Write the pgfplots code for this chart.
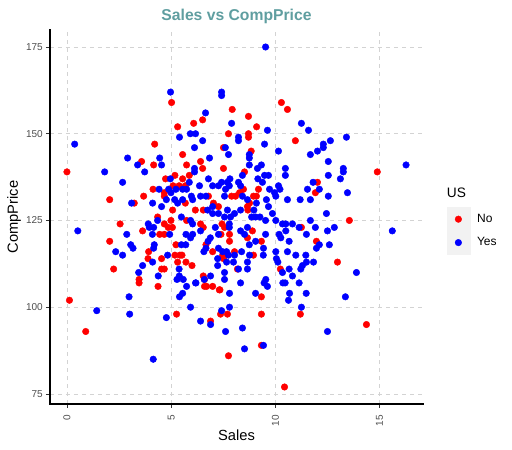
\documentclass[border=0pt]{standalone}
\usepackage{pgfplots}
\pgfplotsset{compat=1.18}
\usepackage{fontspec}
\setmainfont{Liberation Sans}
\definecolor{titlecol}{RGB}{95,158,160}
\definecolor{tickcol}{RGB}{77,77,77}
\definecolor{gridcol}{RGB}{211,211,211}
\definecolor{keybg}{RGB}{242,242,242}
\begin{document}
\begin{tikzpicture}[x=1pt,y=1pt]
\begin{axis}[
  at={(0,0)}, anchor=south west,
  scale only axis, width=373pt, height=374pt,
  xmin=-0.8135, xmax=17.0835, ymin=72.1, ymax=179.9,
  clip=false,
  axis x line*=bottom, axis y line*=left,
  x axis line style={-, line width=1.7pt, black, line cap=rect},
  y axis line style={-, line width=1.7pt, black, line cap=rect},
  xtick={0,5,10,15}, ytick={75,100,125,150,175},
  tick align=outside, major tick length=4pt,
  tick style={line width=0.8pt, color=black!80},
  grid=major, major grid style={gridcol, line width=0.8pt, dash pattern=on 4pt off 4pt},
  /pgf/number format/assume math mode=true,
  ticklabel style={font=\fontsize{10pt}{12pt}\selectfont, color=tickcol},
  xticklabel style={rotate=90, anchor=east, inner sep=0pt},
  yticklabel style={anchor=east, inner sep=0pt},
  xticklabel shift=7pt, yticklabel shift=3pt,
  xlabel={Sales}, ylabel={CompPrice},
  label style={font=\fontsize{14.7pt}{17pt}\selectfont},
  xlabel style={at={(axis description cs:0.5,-0.0963)}, anchor=base, inner sep=0pt},
  ylabel style={at={(axis description cs:-0.0858,0.5)}, anchor=base, rotate=0, inner sep=0pt},
  legend style={at={(axis description cs:1.0635,0.5254)}, anchor=north west, draw=none, fill=none, inner sep=0pt, outer sep=0pt, row sep=0pt, column sep=7pt, nodes={inner sep=0pt, anchor=west, font=\fontsize{12pt}{14pt}\selectfont}},
  legend cell align=left,
  legend image code/.code={\fill[keybg] (-11.5pt,-11.5pt) rectangle (11.5pt,11.5pt); \draw[#1] plot coordinates {(0pt,0pt)};},
]
\addplot[only marks, mark=*, mark size=3.3pt, color=red, fill=red, mark options={line width=0.4pt}] coordinates {
(5.02,159) (5.31,152) (4.21,147) (3.58,142) (4.16,141) (5.55,144) (10.29,159) (10.58,157) (7.93,157) (6.08,153)
(6.51,154) (8.71,155) (9.10,152) (7.75,150) (8.71,150) (8.71,149) (10.96,148) (7.51,146) (8.84,145) (6.41,142)
(5.74,141) (6.51,140) (7.51,140) (8.52,139) (14.89,139) (0.00,139) (5.18,138) (4.73,137) (5.55,137) (5.09,135)
(5.38,135) (4.13,134) (4.67,133) (4.67,132) (2.05,131) (3.68,132) (3.23,130) (5.07,128) (4.35,126) (2.55,124)
(4.67,124) (4.99,125) (3.63,122) (4.45,121) (4.67,121) (5.06,123) (4.86,123) (2.05,119) (5.23,118) (3.92,116)
(5.18,115) (5.42,115) (3.89,114) (4.54,114) (5.31,113) (2.24,111) (4.54,111) (4.67,111) (3.46,108) (3.46,107)
(4.37,106) (0.12,102) (0.90,93) (5.26,98) (6.70,106) (6.99,106) (7.34,105) (9.33,103) (11.20,98) (7.37,98)
(7.70,98) (6.89,96) (9.33,98) (9.33,89) (7.75,86) (10.44,77) (14.37,95) (12.02,136) (11.92,133) (13.55,125)
(11.25,123) (11.97,119) (12.98,113) (5.87,138) (9.19,134) (5.68,135) (5.68,130) (6.79,132) (7.03,130) (7.27,129)
(7.90,132) (8.09,132) (8.28,133) (8.47,134) (8.95,132) (9.09,132) (8.76,130) (8.66,129) (8.68,128) (6.16,128)
(6.54,128) (5.74,125) (6.41,124) (6.54,123) (7.44,124) (7.56,123) (7.39,121) (7.80,121) (7.80,119) (8.90,122)
(8.66,120) (9.33,119) (6.67,118) (5.52,115) (5.71,113) (6.00,112) (6.99,116) (7.47,115) (7.51,114) (8.04,116)
(8.95,115) (8.18,111) (6.54,109) (6.60,108) (6.60,106) (7.31,105) (10.24,111)
};
\addlegendentry{No}
\addplot[only marks, mark=*, mark size=3.3pt, color=blue, fill=blue, mark options={line width=0.4pt}] coordinates {
(4.97,162) (5.40,149) (0.37,147) (2.91,143) (4.45,143) (3.39,141) (4.54,141) (9.53,175) (7.42,162) (7.42,161)
(6.65,156) (7.90,153) (9.62,151) (11.25,153) (11.59,151) (5.92,150) (6.17,150) (8.23,149) (8.23,148) (6.51,148)
(9.48,147) (6.12,146) (7.60,146) (10.15,145) (7.75,144) (8.75,144) (8.75,143) (8.75,141) (6.84,143) (6.12,140)
(9.14,140) (9.33,141) (10.48,140) (13.41,149) (12.64,148) (12.30,147) (12.30,146) (12.02,145) (11.68,144) (12.54,142)
(16.27,141) (13.26,140) (1.81,139) (3.73,139) (2.67,136) (4.96,137) (4.42,134) (4.88,134) (4.99,133) (5.23,134)
(5.55,134) (4.77,131) (5.17,131) (3.10,130) (4.11,130) (4.54,129) (5.31,130) (0.52,122) (3.90,124) (3.95,123)
(4.16,123) (4.35,125) (4.10,121) (4.93,121) (2.87,121) (3.06,118) (3.17,117) (4.19,118) (4.16,117) (5.70,118)
(2.34,116) (2.67,115) (4.83,115) (4.11,113) (3.63,112) (5.38,111) (3.44,110) (4.38,109) (5.28,108) (1.43,99)
(2.98,103) (3.01,98) (4.14,85) (4.77,97) (5.40,103) (5.55,104) (5.74,106) (7.80,104) (6.17,107) (8.33,107)
(9.05,104) (9.46,107) (9.62,106) (10.36,107) (10.68,104) (10.63,102) (11.14,107) (11.48,104) (11.25,100) (5.93,100)
(7.42,99) (7.80,100) (6.41,96) (6.89,95) (7.61,93) (8.42,94) (8.52,88) (9.43,89) (13.36,103) (12.50,93)
(13.26,139) (13.12,137) (12.54,138) (11.81,136) (11.54,134) (12.11,134) (13.46,133) (11.19,131) (11.68,131) (12.54,132)
(12.45,127) (11.68,125) (11.92,123) (12.83,123) (12.50,122) (11.49,121) (15.61,122) (12.11,118) (11.97,117) (12.59,118)
(11.83,113) (13.89,110) (11.22,111) (6.12,139) (10.48,138) (9.48,138) (9.67,138) (5.87,136) (5.74,134) (6.79,137)
(6.36,135) (6.99,135) (7.27,135) (7.42,136) (7.82,137) (7.70,136) (8.23,136) (8.42,138) (8.33,135) (9.16,137)
(9.38,136) (9.72,134) (10.15,135) (10.22,134) (9.96,133) (10.02,132) (10.58,131) (5.97,132) (5.55,131) (6.03,131)
(6.41,132) (6.67,132) (6.99,129) (6.99,127) (7.61,134) (7.79,135) (7.56,132) (8.42,132) (8.66,131) (9.09,130)
(8.97,128) (9.67,129) (9.57,131) (9.26,126) (9.53,125) (9.05,126) (8.86,126) (8.33,128) (8.04,127) (7.70,128)
(7.27,127) (7.85,126) (7.56,126) (6.75,128) (5.49,126) (5.93,125) (6.03,124) (6.41,122) (5.71,121) (6.03,121)
(5.93,120) (7.79,124) (7.79,123) (7.12,123) (7.27,121) (8.66,123) (8.33,122) (8.52,121) (8.75,118) (9.05,119)
(9.53,121) (9.43,117) (6.88,120) (6.77,119) (6.67,117) (6.57,116) (5.49,118) (7.27,117) (7.47,116) (7.66,116)
(7.75,115) (8.04,115) (8.38,116) (8.76,115) (8.66,113) (9.42,115) (7.23,114) (7.23,112) (7.66,113) (7.99,113)
(8.66,111) (8.23,111) (7.56,110) (7.56,108) (6.89,109) (6.19,107) (6.59,108) (5.58,108) (5.39,109) (9.54,108)
(10.02,116) (10.05,114) (10.12,113) (10.58,116) (10.98,115) (10.34,110) (10.82,109) (10.66,111) (10.47,107) (11.49,113)
(11.46,115) (11.30,112) (10.18,121) (10.26,120) (10.50,122) (10.66,119) (10.50,124) (10.82,124) (11.14,123) (10.02,125)
(10.34,124) (9.86,127)
};
\addlegendentry{Yes}
\node[anchor=base west, inner sep=0pt, font=\fontsize{13.7pt}{16pt}\selectfont] at (axis description cs:1.0635,0.5516) {US};
\node[anchor=base, inner sep=0pt, font=\bfseries\fontsize{15.7pt}{18pt}\selectfont, color=titlecol] at (axis description cs:0.5,1.0254) {Sales vs CompPrice};
\end{axis}
\pgfresetboundingbox
\path[use as bounding box] (-50,-46) rectangle (462,404);
\end{tikzpicture}
\end{document}
